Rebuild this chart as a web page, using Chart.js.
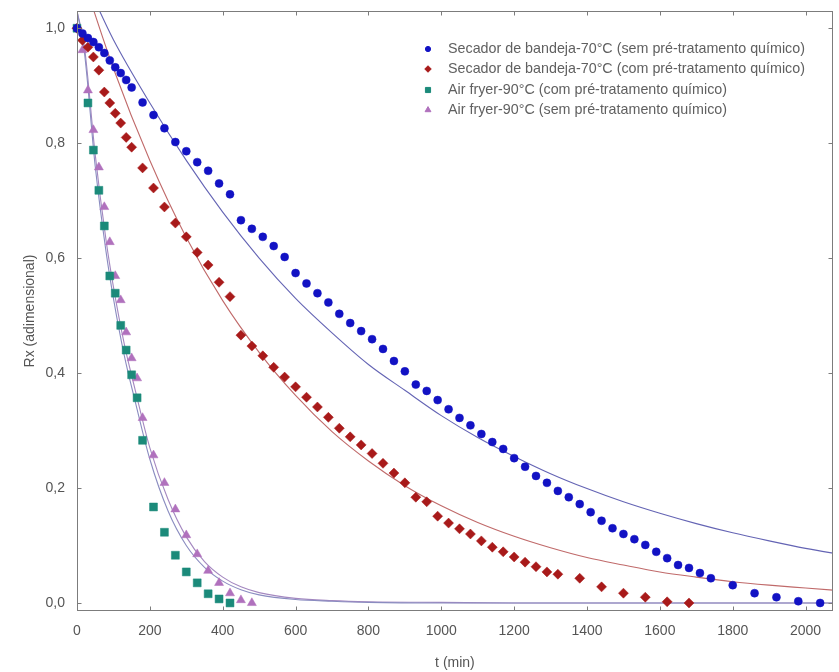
<!DOCTYPE html>
<html><head><meta charset="utf-8">
<script src="https://cdn.jsdelivr.net/npm/chart.js@4.4.1/dist/chart.umd.min.js"></script>
<style>html,body{margin:0;padding:0;background:#fff;} #wrap{width:839px;height:672px;}</style>
</head><body><div id="wrap"><canvas id="c" width="839" height="672"></canvas></div>
<script>
// ---------- data ----------
const seriesLabels = [
  'Secador de bandeja-70°C (sem pré-tratamento químico)',
  'Secador de bandeja-70°C (com pré-tratamento químico)',
  'Air fryer-90°C (com pré-tratamento químico)',
  'Air fryer-90°C (sem pré-tratamento químico)'
];
const xTickLabels = [0,200,400,600,800,1000,1200,1400,1600,1800,2000];
const yTickLabels = ['0,0','0,2','0,4','0,6','0,8','1,0'];

// Secador de bandeja (sem) – blue circles
const tSem = [0,15,30,45,60,75,90,105,120,135,150,180,210,240,270,300,330,360,390,420,450,480,510,540,570,600,630,660,690,720,750,780,810,840,870,900,930,960,990,1020,1050,1080,1110,1140,1170,1200,1230,1260,1290,1320,1350,1380,1410,1440,1470,1500,1530,1560,1590,1620,1650,1680,1710,1740,1800,1860,1920,1980,2040];
const rxSem = [1.0,0.991,0.983,0.976,0.967,0.957,0.944,0.932,0.922,0.910,0.897,0.871,0.849,0.826,0.802,0.786,0.767,0.752,0.730,0.711,0.666,0.651,0.637,0.621,0.602,0.574,0.556,0.539,0.523,0.503,0.487,0.473,0.459,0.442,0.421,0.403,0.380,0.369,0.353,0.337,0.322,0.309,0.294,0.280,0.268,0.252,0.237,0.221,0.209,0.195,0.184,0.172,0.158,0.143,0.130,0.120,0.111,0.101,0.089,0.078,0.066,0.061,0.052,0.043,0.031,0.017,0.010,0.003,0.0];

// Secador de bandeja (com) – red diamonds
const tCom = [0,15,30,45,60,75,90,105,120,135,150,180,210,240,270,300,330,360,390,420,450,480,510,540,570,600,630,660,690,720,750,780,810,840,870,900,930,960,990,1020,1050,1080,1110,1140,1170,1200,1230,1260,1290,1320,1380,1440,1500,1560,1620,1680];
const rxCom = [1.0,0.979,0.967,0.950,0.927,0.889,0.870,0.852,0.835,0.810,0.793,0.757,0.722,0.689,0.661,0.637,0.610,0.588,0.558,0.533,0.466,0.447,0.430,0.410,0.393,0.376,0.358,0.341,0.323,0.304,0.289,0.275,0.260,0.243,0.226,0.209,0.184,0.176,0.151,0.139,0.129,0.120,0.108,0.097,0.089,0.080,0.071,0.063,0.054,0.050,0.043,0.028,0.017,0.010,0.002,0.0];

// Air fryer (com) – teal squares
const tAfCom = [0,30,45,60,75,90,105,120,135,150,165,180,210,240,270,300,330,360,390,420];
const rxAfCom = [1.0,0.870,0.788,0.718,0.656,0.569,0.539,0.483,0.440,0.397,0.357,0.283,0.167,0.123,0.083,0.054,0.035,0.016,0.007,0.0];

// Air fryer (sem) – violet triangles
const tAfSem = [15,30,45,60,75,90,105,120,135,150,165,180,210,240,270,300,330,360,390,420,450,480];
const rxAfSem = [0.962,0.892,0.823,0.758,0.689,0.628,0.569,0.527,0.471,0.426,0.391,0.322,0.257,0.209,0.163,0.118,0.085,0.056,0.035,0.017,0.005,0.0];

// fitted curves
const tFitSem = [40,100,200,300,400,500,600,700,800,900,1000,1100,1200,1300,1400,1500,1600,1700,1800,1900,2000,2100];
const rxFitSem = [1.06,0.98,0.87,0.77,0.68,0.60,0.53,0.47,0.415,0.37,0.326,0.288,0.255,0.225,0.199,0.176,0.156,0.138,0.122,0.108,0.095,0.084];
const tFitCom = [0,100,200,300,400,500,600,700,800,900,1000,1100,1200,1300,1400,1500,1600,1700,1800,1900,2000,2100];
const rxFitCom = [1.12,0.93,0.77,0.636,0.526,0.436,0.361,0.298,0.247,0.204,0.169,0.140,0.116,0.096,0.079,0.066,0.054,0.045,0.037,0.031,0.026,0.021];
const tFitAf = [0,20,50,80,100,130,160,200,250,300,350,400,450,500,600,700,800,1000,1200,1600,2100];
const rxFitAfCom = [1.03,0.96,0.76,0.61,0.53,0.43,0.35,0.25,0.16,0.10,0.062,0.038,0.023,0.014,0.006,0.003,0.001,0.0,0.0,0.0,0.0];
const rxFitAfSem = [1.03,0.97,0.78,0.63,0.55,0.45,0.37,0.27,0.18,0.115,0.072,0.045,0.028,0.018,0.008,0.004,0.002,0.001,0.0,0.0,0.0];

// ---------- build ----------
const pts = (t, r) => t.map((v, i) => ({x: v, y: r[i]}));
const pointStyles = ['circle','rectRot','rect','triangle'];
const pointColors = ['#1212c4','#a81a1a','#1b8a7a','#b071bd'];
const pointRadii = [4, 5, 5.6, 5.2];
const pointData = [pts(tSem,rxSem), pts(tCom,rxCom), pts(tAfCom,rxAfCom), pts(tAfSem,rxAfSem)];

const datasets = pointData.map((d, i) => ({
  label: seriesLabels[i], data: d, showLine: false,
  pointStyle: pointStyles[i], pointRadius: pointRadii[i], pointHoverRadius: pointRadii[i],
  backgroundColor: pointColors[i], borderColor: pointColors[i], borderWidth: 0.5,
  order: 0, clip: false
}));
const fits = [
  [pts(tFitSem, rxFitSem), '#6464b4'],
  [pts(tFitCom, rxFitCom), '#c06a6a'],
  [pts(tFitAf, rxFitAfCom), '#8a8cc0'],
  [pts(tFitAf, rxFitAfSem), '#a488c0']
];
fits.forEach(([d, c]) => datasets.push({
  label: '', data: d, showLine: true, pointRadius: 0, borderColor: c, borderWidth: 1.1,
  backgroundColor: c, cubicInterpolationMode: 'monotone', fill: false, order: 1, clip: 0
}));

const frame = {
  id: 'frame',
  afterDraw(chart) {
    const {ctx, chartArea: a, scales: {x, y}} = chart;
    ctx.save();
    ctx.strokeStyle = '#7c7c7c'; ctx.lineWidth = 1;
    const L = Math.round(a.left) + 0.5, R = Math.round(a.right) - 0.5,
          T = Math.round(a.top) + 0.5, B = Math.round(a.bottom) - 0.5;
    ctx.strokeRect(L, T, R - L, B - T);
    ctx.beginPath();
    x.ticks.forEach(tk => { const p = Math.round(x.getPixelForValue(tk.value)) + 0.5;
      ctx.moveTo(p, B); ctx.lineTo(p, B - 4); ctx.moveTo(p, T); ctx.lineTo(p, T + 4); });
    y.ticks.forEach(tk => { const p = Math.round(y.getPixelForValue(tk.value)) + 0.5;
      ctx.moveTo(L, p); ctx.lineTo(L + 4, p); ctx.moveTo(R, p); ctx.lineTo(R - 4, p); });
    ctx.stroke();
    // legend
    ctx.font = '14.3px "Liberation Sans", Arial, sans-serif';
    ctx.textBaseline = 'middle'; ctx.textAlign = 'left';
    const rows = [49, 69, 90, 110];
    seriesLabels.forEach((lab, i) => {
      const cy = rows[i], cx = 428;
      ctx.fillStyle = pointColors[i]; ctx.strokeStyle = pointColors[i];
      if (Chart.helpers && Chart.helpers.drawPoint) {
        Chart.helpers.drawPoint(ctx, {pointStyle: pointStyles[i], radius: pointRadii[i]*0.65, rotation: 0, borderWidth: 0.5}, cx, cy);
      } else { ctx.beginPath(); ctx.arc(cx, cy, 2.5, 0, Math.PI*2); ctx.fill(); }
      ctx.fillStyle = '#606060';
      ctx.fillText(lab, 448, cy);
    });
    ctx.restore();
  }
};

const fontFam = '"Liberation Sans", Arial, sans-serif';
new Chart(document.getElementById('c'), {
  type: 'scatter',
  data: { datasets },
  options: {
    responsive: false, animation: false, devicePixelRatio: 1,
    layout: { padding: { top: 11, right: 6, left: 0, bottom: 0 } },
    plugins: { legend: { display: false }, tooltip: { enabled: false } },
    scales: {
      x: {
        type: 'linear', min: 0, max: 2075,
        afterFit: s => { s.height = 61; s.paddingLeft = 0; s.paddingRight = 0; },
        afterBuildTicks: s => { s.ticks = xTickLabels.map(v => ({value: v})); },
        ticks: { padding: 12, color: '#555', font: { size: 14, family: fontFam },
          callback: (v, i) => String(xTickLabels[i]) },
        grid: { display: false, drawTicks: false }, border: { display: false },
        title: { display: true, text: 't (min)', color: '#555', font: { size: 14, family: fontFam }, padding: { bottom: 0, top: 0 } }
      },
      y: {
        type: 'linear', min: -0.014, max: 1.03,
        afterFit: s => { s.width = 77; s.paddingTop = 0; s.paddingBottom = 0; },
        afterBuildTicks: s => { s.ticks = yTickLabels.map((l, i) => ({value: i * 0.2})); },
        ticks: { padding: 12, color: '#555', font: { size: 14, family: fontFam },
          callback: (v, i) => yTickLabels[i] },
        grid: { display: false, drawTicks: false }, border: { display: false },
        title: { display: true, text: 'Rx (adimensional)', color: '#555', font: { size: 14, family: fontFam }, padding: { top: 22, bottom: 0 } }
      }
    }
  },
  plugins: [frame]
});
</script>
</body></html>
